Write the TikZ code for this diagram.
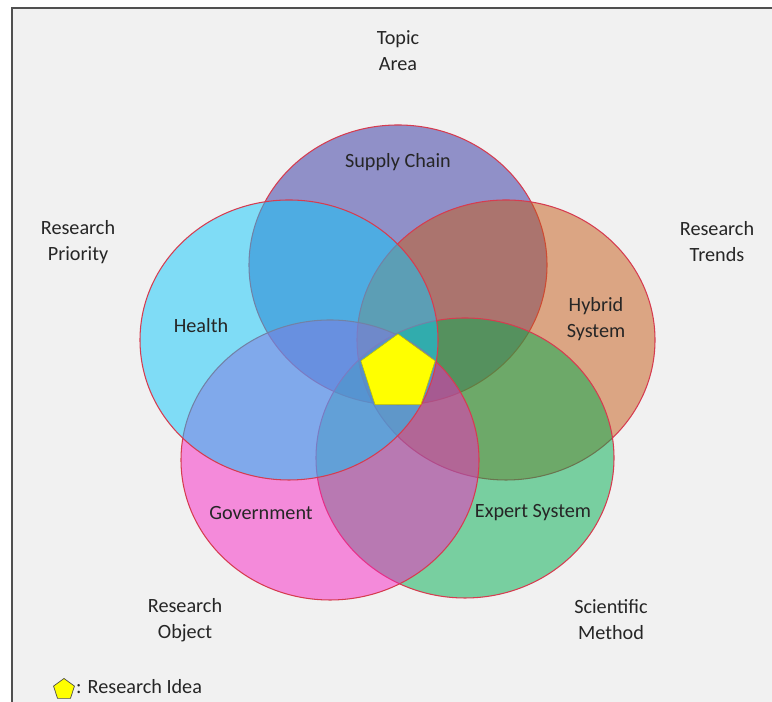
\documentclass[tikz,border=0pt]{standalone}
\usepackage{fontspec}
\setmainfont{Carlito}
\usetikzlibrary{shapes.geometric}

\definecolor{paper}{RGB}{241,241,241}
\definecolor{edge}{RGB}{80,80,80}
\definecolor{vennred}{RGB}{214,60,80}
\definecolor{supplyfill}{RGB}{48,48,160}
\definecolor{healthfill}{RGB}{14,200,252}
\definecolor{hybridfill}{RGB}{198,90,22}
\definecolor{govfill}{RGB}{248,36,196}
\definecolor{expertfill}{RGB}{0,174,80}
\definecolor{ideayellow}{RGB}{255,255,0}

\begin{document}
\begin{tikzpicture} [scale = 1,
  venn/.style = {draw=vennred, line width=0.6pt, fill opacity=0.5},
  tag/.style = {text=black!85, align=center, font=\fontsize{11.5}{14.8}\selectfont}]
\useasboundingbox (0, 0) rectangle (15.44, 14.04);
\fill[white] (0, 0) rectangle (15.44, 14.04);
\fill[paper] (0.24, 0) rectangle (15.44, 13.88);
\draw[edge, line width=1pt] (0.24, 0) -- (0.24, 13.88) -- (15.44, 13.88);
% the five sets, back to front
\draw[venn, fill=supplyfill] (7.96, 8.74) ellipse (2.98 and 2.80);
\draw[venn, fill=hybridfill] (10.12, 7.24) ellipse (2.98 and 2.80);
\draw[venn, fill=expertfill] (9.30, 4.88) ellipse (2.98 and 2.80);
\draw[venn, fill=govfill] (6.60, 4.84) ellipse (2.98 and 2.80);
\draw[venn, fill=healthfill] (5.78, 7.24) ellipse (2.98 and 2.80);
% the idea in the middle
\node[regular polygon, regular polygon sides=5, minimum size=1.56cm, inner sep=0pt,
  fill=ideayellow, draw=ideayellow!75!black, line width=0.3pt] (idea) at (7.96, 6.58) {};
% set names
\node[tag] (supply) at (7.96, 10.80) {Supply Chain};
\node[tag] (health) at (4.02, 7.52) {Health};
\node[tag] (hybrid) at (11.92, 7.66) {Hybrid\\System};
\node[tag] (gov) at (5.22, 3.78) {Government};
\node[tag] (expert) at (10.66, 3.78) {Expert System};
% aspects
\node[tag] (topic) at (7.96, 13.02) {Topic\\Area};
\node[tag] (priority) at (1.56, 9.20) {Research\\Priority};
\node[tag] (trends) at (14.34, 9.20) {Research\\Trends};
\node[tag] (object) at (3.70, 1.64) {Research\\Object};
\node[tag] (method) at (12.22, 1.64) {Scientific\\Method};
% legend
\node[regular polygon, regular polygon sides=5, minimum size=0.44cm, inner sep=0pt,
  fill=ideayellow, draw=black!70, line width=0.4pt] (key) at (1.28, 0.25) {};
\node[tag, right] (keytext) at (1.40, 0.31) {: Research Idea};
\end{tikzpicture}
\end{document}
